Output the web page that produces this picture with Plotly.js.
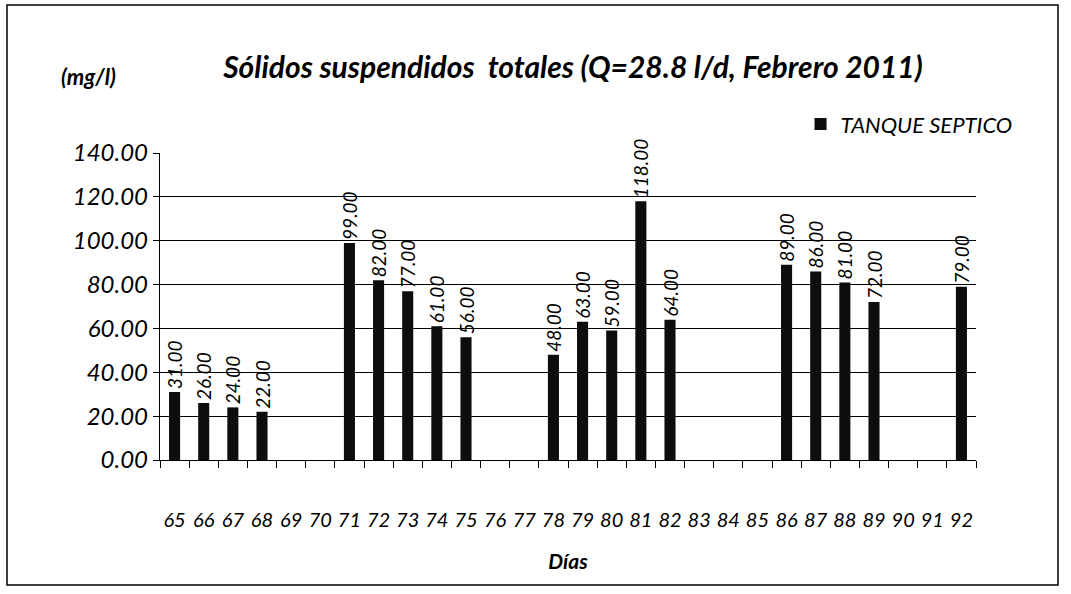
<!DOCTYPE html>
<html><head><meta charset="utf-8">
<script src="https://cdn.plot.ly/plotly-3.0.1.min.js"></script>
<style>body{margin:0;background:#fff}#c{width:1071px;height:594px}</style>
</head><body><div id="c"></div>
<script>
const dias = ['65','66','67','68','69','70','71','72','73','74','75','76','77','78','79','80','81','82','83','84','85','86','87','88','89','90','91','92'];
const tanqueSeptico = [31,26,24,22,null,null,99,82,77,61,56,null,null,48,63,59,118,64,null,null,null,89,86,81,72,null,null,79];
const yTicks = [0,20,40,60,80,100,120,140];
const yTickLabels = ['0.00','20.00','40.00','60.00','80.00','100.00','120.00','140.00'];

const F = 'Lato, "Open Sans", sans-serif';
const trace = {
  type:'bar', x:dias, y:tanqueSeptico, name:'<i>TANQUE SEPTICO</i>',
  marker:{color:'#0d0d0d', line:{width:0}},
  texttemplate:'%{y:.2f}', textposition:'outside', textangle:-90,
  textfont:{family:F, size:19, color:'#000', style:'italic'},
  cliponaxis:false, constraintext:'none', hoverinfo:'none'
};
const layout = {
  width:1071, height:594,
  margin:{l:160, r:95, t:153, b:134},
  paper_bgcolor:'#fff', plot_bgcolor:'#fff',
  bargap:0.62,
  showlegend:true,
  legend:{x:0.785, y:1.094, xanchor:'left', yanchor:'middle', bgcolor:'rgba(0,0,0,0)',
    itemwidth:30, font:{family:F, size:22, color:'#000'}},
  title:{text:'<b><i>Sólidos suspendidos  totales (Q=28.8 l/d, Febrero 2011)</i></b>',
    x:0.535, xanchor:'center', y:0.887, yanchor:'middle', font:{family:F, size:30, color:'#000'}},
  xaxis:{type:'category', tickson:'boundaries', ticks:'outside', ticklen:7, tickcolor:'#000',
    tickvals:dias, ticktext:dias.map(d=>'<i>'+d+'</i>'), ticklabelstandoff:42, tickangle:0,
    showline:true, linecolor:'#000', linewidth:1.2, showgrid:false,
    tickfont:{family:F, size:20, color:'#000', style:'italic'},
    title:{text:'<b><i>Días</i></b>', font:{family:F, size:21, color:'#000'}, standoff:24}},
  yaxis:{range:[0,140], tickvals:yTicks, ticktext:yTickLabels.map(t=>'<i>'+t+'</i>'), ticks:'outside', ticklen:6, tickcolor:'#000',
    showline:true, linecolor:'#000', linewidth:1.2, showgrid:true, gridcolor:'#000', gridwidth:1.2,
    zeroline:false, tickfont:{family:F, size:24, color:'#000', style:'italic'}},
  annotations:[{xref:'paper', yref:'paper', x:-0.088, y:1.25, xanchor:'center', yanchor:'middle',
    text:'<b><i>(mg/l)</i></b>', showarrow:false, font:{family:F, size:22, color:'#000'}}],
  shapes:[{type:'rect', xref:'paper', yref:'paper', x0:-0.1875, x1:1.1005, y0:-0.407, y1:1.482,
    line:{color:'#000', width:1.5}, fillcolor:'rgba(0,0,0,0)'}]
};
Plotly.newPlot('c',[trace],layout,{displayModeBar:false,staticPlot:true});
</script></body></html>
